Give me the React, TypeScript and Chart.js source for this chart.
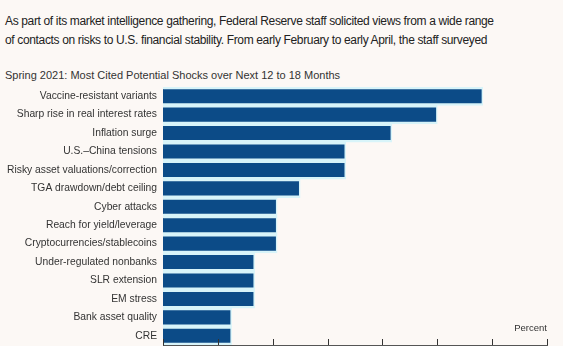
import React, { useEffect, useRef } from "react";
import { Chart, registerables } from "chart.js";

Chart.register(...registerables);

const introLines = [
  "As part of its market intelligence gathering, Federal Reserve staff solicited views from a wide range",
  "of contacts on risks to U.S. financial stability. From early February to early April, the staff surveyed",
];
const chartTitle = "Spring 2021: Most Cited Potential Shocks over Next 12 to 18 Months";
const unitLabel = "Percent";

const categories = [
  "Vaccine-resistant variants",
  "Sharp rise in real interest rates",
  "Inflation surge",
  "U.S.\u2013China tensions",
  "Risky asset valuations/correction",
  "TGA drawdown/debt ceiling",
  "Cyber attacks",
  "Reach for yield/leverage",
  "Cryptocurrencies/stablecoins",
  "Under-regulated nonbanks",
  "SLR extension",
  "EM stress",
  "Bank asset quality",
  "CRE",
];
const shares = [58.3, 50, 41.7, 33.3, 33.3, 25, 20.8, 20.8, 20.8, 16.7, 16.7, 16.7, 12.5, 12.5];
const xMin = 0;
const xMax = 70;
const xStep = 10;

const BAR = "#0c4b87";
const FRINGE = "#d8f4f9";
const BG = "#fcf8f5";
const FONT = "'Liberation Sans', Arial, sans-serif";

const upTicks = {
  id: "upTicks",
  afterDraw(chart: any) {
    const { ctx, chartArea, scales } = chart;
    const x = scales.x;
    ctx.save();
    ctx.strokeStyle = "#333";
    ctx.lineWidth = 1;
    for (const t of x.ticks) {
      const px = Math.round(x.getPixelForValue(t.value)) + 0.5;
      ctx.beginPath();
      ctx.moveTo(px, chartArea.bottom - 6);
      ctx.lineTo(px, chartArea.bottom);
      ctx.stroke();
    }
    ctx.restore();
  },
};

export default function App() {
  const ref = useRef<HTMLCanvasElement | null>(null);

  useEffect(() => {
    document.body.style.margin = "0";
    document.body.style.background = BG;
    const chart = new Chart(ref.current!, {
      type: "bar",
      data: {
        labels: categories,
        datasets: [
          {
            data: shares,
            backgroundColor: BAR,
            borderColor: FRINGE,
            borderWidth: { top: 2.5, right: 1.5, bottom: 2.5, left: 0 },
            borderSkipped: false,
            barPercentage: 1,
            categoryPercentage: 1,
          },
        ],
      },
      plugins: [upTicks],
      options: {
        indexAxis: "y",
        animation: false,
        responsive: false,
        maintainAspectRatio: false,
        layout: { padding: { top: 87, right: 16, bottom: 1, left: 0 } },
        plugins: {
          legend: { display: false },
          tooltip: { enabled: false },
          title: { display: false },
        },
        scales: {
          x: {
            min: xMin,
            max: xMax,
            ticks: { stepSize: xStep, display: false },
            grid: { display: false, drawTicks: false },
            border: { display: true, color: "#555", width: 1 },
            afterFit(s: any) {
              s.height = 0;
              s.paddingLeft = 0;
              s.paddingRight = 0;
            },
          },
          y: {
            ticks: {
              color: "#333",
              padding: 6,
              autoSkip: false,
              font: { family: FONT, size: 10.3 },
            },
            grid: { display: false, drawTicks: false },
            border: { display: true, color: "#444", width: 1 },
            afterFit(s: any) {
              s.width = 163;
              s.paddingTop = 0;
              s.paddingBottom = 0;
            },
          },
        },
      },
    });
    return () => chart.destroy();
  }, []);

  return (
    <div
      style={{
        position: "relative",
        width: 563,
        height: 346,
        overflow: "hidden",
        background: BG,
        fontFamily: FONT,
      }}
    >
      <div
        style={{
          position: "absolute",
          left: 5,
          top: 12,
          fontSize: 12,
          lineHeight: "19px",
          color: "#222",
          whiteSpace: "nowrap",
          letterSpacing: "-0.35px",
        }}
      >
        {introLines.map((l, i) => (
          <div key={i}>{l}</div>
        ))}
      </div>
      <div
        style={{
          position: "absolute",
          left: 5,
          top: 68,
          fontSize: 11,
          lineHeight: "14px",
          color: "#333",
          whiteSpace: "nowrap",
        }}
      >
        {chartTitle}
      </div>
      <canvas
        ref={ref}
        width={563}
        height={346}
        style={{ position: "absolute", left: 0, top: 0, width: 563, height: 346 }}
      />
      <div
        style={{
          position: "absolute",
          right: 563 - 547,
          top: 322,
          fontSize: 9.5,
          lineHeight: "12px",
          color: "#333",
        }}
      >
        {unitLabel}
      </div>
    </div>
  );
}
